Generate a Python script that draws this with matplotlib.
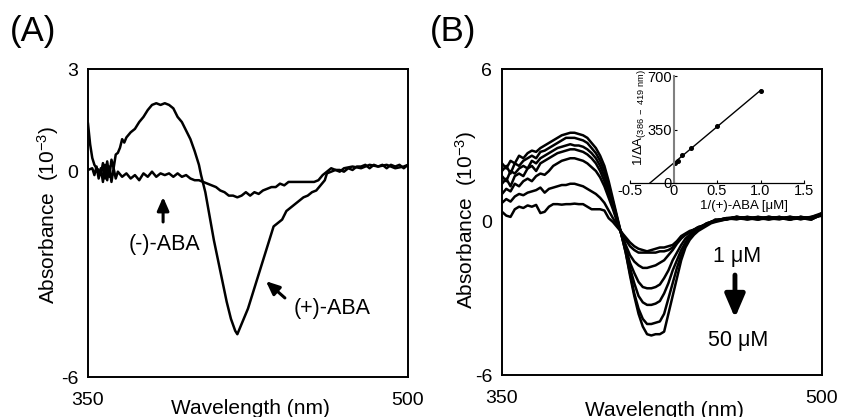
import matplotlib
matplotlib.use('Agg')
import matplotlib.pyplot as plt
import numpy as np

plt.rcParams['font.family'] = ['Liberation Sans', 'DejaVu Sans']
plt.rcParams['mathtext.fontset'] = 'custom'
plt.rcParams['mathtext.rm'] = 'Liberation Sans'
plt.rcParams['mathtext.it'] = 'Liberation Sans:italic'
plt.rcParams['mathtext.bf'] = 'Liberation Sans:bold'

# ---------------- Panel A data ----------------
wl_a_plus = [350, 351, 352, 353, 354, 355, 356, 357, 358, 359, 360, 361, 362, 363, 364, 365,
             366, 367, 368, 370, 372, 374, 376, 378, 380, 382, 384, 386, 388, 390, 392, 394,
             396, 398, 400, 402, 403, 405, 407, 409, 411, 413, 415, 417, 419, 420, 421, 423,
             425, 427, 429, 431, 433, 435, 437, 439, 441, 443, 445, 447, 449, 451, 453, 455,
             457, 459, 461, 462, 464, 466, 468, 470, 472, 474, 476, 478, 480, 482, 484, 486,
             488, 490, 492, 494, 496, 498, 500]
abs_a_plus = [1.4, 0.8, 0.4, 0.2, 0.1, 0.05, -0.1, 0.25, -0.2, 0.3, -0.15, 0.35, 0.1, 0.5, 0.55, 0.7,
              0.95, 0.85, 1.0, 1.15, 1.25, 1.45, 1.6, 1.8, 1.95, 2.0, 1.95, 2.0, 1.95, 1.85, 1.6, 1.45,
              1.2, 0.95, 0.6, 0.2, -0.1, -0.6, -1.3, -2.0, -2.6, -3.2, -3.8, -4.3, -4.65, -4.75, -4.6, -4.3,
              -4.0, -3.6, -3.2, -2.8, -2.4, -2.0, -1.6, -1.5, -1.4, -1.15, -1.05, -0.95, -0.85, -0.75, -0.7, -0.6,
              -0.55, -0.4, -0.25, -0.05, 0.0, 0.05, 0.05, 0.0, 0.1, 0.05, 0.15, 0.15, 0.2, 0.1, 0.2, 0.15,
              0.2, 0.1, 0.2, 0.15, 0.2, 0.1, 0.2]

wl_a_minus = [350, 352, 353, 354, 355, 356, 357, 358, 359, 360, 361, 362, 363, 364, 366, 368,
              370, 372, 374, 376, 378, 380, 382, 384, 386, 388, 390, 392, 394, 396, 398, 400,
              402, 404, 406, 408, 410, 412, 414, 416, 418, 420, 422, 424, 426, 428, 430, 432,
              434, 436, 438, 440, 442, 444, 446, 448, 450, 452, 454, 456, 458, 460, 462, 464,
              466, 468, 470, 474, 478, 482, 486, 490, 494, 498, 500]
abs_a_minus = [0.05, 0.1, -0.1, 0.15, -0.2, 0.1, -0.3, 0.2, -0.25, 0.15, -0.3, 0.1, -0.2, 0.0, -0.15, -0.05,
               -0.2, -0.1, -0.25, -0.05, -0.15, 0.0, -0.15, -0.05, -0.1, -0.05, -0.15, -0.05, -0.15, -0.1, -0.2, -0.25,
               -0.25, -0.3, -0.35, -0.4, -0.45, -0.55, -0.6, -0.7, -0.7, -0.75, -0.7, -0.6, -0.7, -0.6, -0.65, -0.55,
               -0.5, -0.45, -0.45, -0.35, -0.4, -0.3, -0.3, -0.3, -0.3, -0.3, -0.3, -0.3, -0.25, -0.1, 0.0, 0.1,
               0.05, 0.0, 0.1, 0.15, 0.1, 0.2, 0.15, 0.2, 0.1, 0.15, 0.2]

# ---------------- Panel B data ----------------
wl_b = [350, 352, 354, 356, 358, 360, 362, 364, 366, 368, 370, 372, 374, 376, 378, 380,
        382, 384, 386, 388, 390, 392, 394, 396, 398, 400, 402, 404, 406, 408, 410, 412,
        414, 416, 418, 420, 422, 424, 426, 428, 430, 432, 434, 436, 438, 440, 442, 444,
        446, 448, 450, 455, 460, 465, 470, 475, 480, 485, 490, 495, 500]

b_1uM = [0.4, 0.25, 0.2, 0.5, 0.6, 0.55, 0.65, 0.6, 0.67, 0.35, 0.4, 0.6, 0.7, 0.7, 0.68, 0.7,
         0.7, 0.72, 0.7, 0.7, 0.6, 0.5, 0.5, 0.5, 0.45, 0.15, 0.0, -0.2, -0.4, -0.6, -0.8, -0.95,
         -1.05, -1.1, -1.15, -1.1, -1.05, -1.0, -1.0, -0.95, -0.9, -0.75, -0.55, -0.45, -0.35, -0.3, -0.2, -0.15,
         -0.05, 0.0, 0.05, 0.15, 0.2, 0.1, 0.15, 0.1, 0.2, 0.1, 0.15, 0.1, 0.3]
b_2 = [0.75, 0.9, 0.8, 1.0, 1.1, 1.05, 1.15, 1.2, 1.25, 1.35, 1.15, 1.3, 1.35, 1.4, 1.45, 1.45,
       1.5, 1.5, 1.45, 1.4, 1.3, 1.2, 1.1, 0.95, 0.75, 0.45, 0.15, -0.1, -0.4, -0.7, -0.95, -1.1,
       -1.2, -1.2, -1.2, -1.2, -1.2, -1.15, -1.15, -1.1, -1.0, -0.8, -0.6, -0.5, -0.4, -0.3, -0.25, -0.15,
       -0.1, 0.0, 0.05, 0.1, 0.2, 0.15, 0.1, 0.2, 0.15, 0.1, 0.2, 0.15, 0.25]
b_3 = [1.1, 1.3, 1.2, 1.5, 1.4, 1.6, 1.7, 1.6, 1.8, 1.9, 1.85, 2.0, 2.2, 2.3, 2.4, 2.45,
       2.5, 2.5, 2.45, 2.4, 2.3, 2.15, 2.0, 1.75, 1.4, 0.95, 0.5, 0.0, -0.45, -0.9, -1.3, -1.55,
       -1.7, -1.8, -1.8, -1.75, -1.7, -1.6, -1.5, -1.3, -1.1, -0.85, -0.65, -0.5, -0.4, -0.3, -0.2, -0.15,
       -0.05, 0.0, 0.1, 0.1, 0.2, 0.15, 0.1, 0.2, 0.15, 0.1, 0.2, 0.15, 0.3]
b_4 = [1.5, 1.7, 1.4, 1.8, 1.9, 1.8, 2.1, 2.2, 2.0, 2.3, 2.4, 2.5, 2.6, 2.7, 2.75, 2.8,
       2.85, 2.85, 2.8, 2.75, 2.65, 2.5, 2.3, 2.0, 1.6, 1.1, 0.6, 0.05, -0.5, -1.0, -1.6, -2.0,
       -2.35, -2.55, -2.6, -2.6, -2.55, -2.45, -2.2, -1.9, -1.5, -1.2, -0.9, -0.65, -0.5, -0.35, -0.25, -0.15,
       -0.1, 0.0, 0.05, 0.15, 0.15, 0.1, 0.2, 0.15, 0.1, 0.2, 0.15, 0.1, 0.35]
b_5 = [1.8, 1.6, 2.0, 1.9, 2.1, 2.2, 2.1, 2.4, 2.3, 2.5, 2.6, 2.7, 2.8, 2.9, 2.95, 3.0,
       3.05, 3.0, 3.0, 2.95, 2.85, 2.7, 2.5, 2.2, 1.8, 1.3, 0.7, 0.1, -0.5, -1.1, -1.8, -2.4,
       -2.9, -3.15, -3.25, -3.25, -3.2, -3.1, -2.8, -2.4, -1.9, -1.5, -1.1, -0.8, -0.55, -0.4, -0.3, -0.2,
       -0.1, 0.0, 0.05, 0.1, 0.2, 0.15, 0.2, 0.1, 0.15, 0.2, 0.1, 0.2, 0.3]
b_6 = [2.0, 2.2, 1.9, 2.3, 2.2, 2.4, 2.5, 2.6, 2.5, 2.75, 2.8, 2.9, 3.0, 3.1, 3.2, 3.3,
       3.3, 3.3, 3.25, 3.2, 3.1, 2.9, 2.7, 2.4, 2.0, 1.4, 0.8, 0.15, -0.5, -1.2, -2.0, -2.8,
       -3.4, -3.8, -4.0, -4.0, -3.95, -3.9, -3.6, -3.0, -2.4, -1.8, -1.3, -0.9, -0.6, -0.45, -0.3, -0.2,
       -0.1, 0.0, 0.05, 0.15, 0.1, 0.2, 0.1, 0.15, 0.2, 0.1, 0.2, 0.1, 0.3]
b_50uM = [2.3, 2.1, 2.4, 2.3, 2.6, 2.5, 2.7, 2.8, 2.75, 2.9, 3.0, 3.1, 3.2, 3.3, 3.4, 3.45,
          3.5, 3.5, 3.45, 3.4, 3.3, 3.1, 2.9, 2.6, 2.2, 1.6, 0.9, 0.2, -0.5, -1.2, -2.1, -2.9,
          -3.6, -4.1, -4.4, -4.45, -4.4, -4.4, -4.3, -3.6, -2.9, -2.2, -1.5, -1.0, -0.7, -0.5, -0.35, -0.25,
          -0.15, -0.05, 0.0, 0.1, 0.15, 0.2, 0.15, 0.2, 0.15, 0.2, 0.15, 0.2, 0.35]
b_series = [b_1uM, b_2, b_3, b_4, b_5, b_6, b_50uM]

# ---------------- Inset data (double reciprocal) ----------------
inv_aba = [0.02, 0.05, 0.1, 0.2, 0.5, 1.0]
inv_dA = [134, 147, 180, 229, 376, 601]

# ---------------- Figure ----------------
W, H = 842, 417
fig = plt.figure(figsize=(W / 100, H / 100), dpi=100)


def fx(px):
    return px / W


def fy(py):
    return 1 - py / H


def style_main(ax):
    for s in ax.spines.values():
        s.set_linewidth(1.4)
        s.set_color('black')
    ax.tick_params(axis='both', length=0, labelsize=14)
    ax.tick_params(axis='y', pad=7)
    ax.tick_params(axis='x', pad=11)


lw_curve = 1.8

# Panel A
axA = fig.add_axes([fx(88), fy(377), fx(408) - fx(88), fy(69) - fy(377)])
axA.plot(wl_a_minus, abs_a_minus, color='black', lw=lw_curve)
axA.plot(wl_a_plus, abs_a_plus, color='black', lw=lw_curve)
axA.set_xlim(350, 500)
axA.set_ylim(-6, 3)
axA.set_xticks([350, 500])
axA.set_yticks([-6, 0, 3])
axA.set_yticklabels(['-6', '0', '3'])
style_main(axA)

axA.annotate('', xy=(385.2, -0.74), xytext=(385.2, -1.47),
             arrowprops=dict(arrowstyle='-|>,head_width=0.35,head_length=0.8', lw=2.2,
                             color='black', mutation_scale=10, shrinkA=0, shrinkB=0))
axA.text(386.0, -2.14, '(-)-ABA', ha='center', va='center', fontsize=15.5)
axA.annotate('', xy=(433.4, -3.2), xytext=(442.3, -3.69),
             arrowprops=dict(arrowstyle='-|>,head_width=0.35,head_length=0.8', lw=2.2,
                             color='black', mutation_scale=10, shrinkA=0, shrinkB=0))
axA.text(464.4, -3.99, '(+)-ABA', ha='center', va='center', fontsize=15.5)

# Panel B
axB = fig.add_axes([fx(502), fy(375), fx(822) - fx(502), fy(69) - fy(375)])
for ser in b_series:
    axB.plot(wl_b, ser, color='black', lw=lw_curve)
axB.set_xlim(350, 500)
axB.set_ylim(-6, 6)
axB.set_xticks([350, 500])
axB.set_yticks([-6, 0, 6])
axB.set_yticklabels(['-6', '0', '6'])
style_main(axB)

axB.text(460.2, -1.37, '1 μM', ha='center', va='center', fontsize=15.5)
axB.annotate('', xy=(459.2, -3.76), xytext=(459.2, -2.08),
             arrowprops=dict(arrowstyle='-|>,head_width=0.3,head_length=0.7', lw=3.5,
                             color='black', mutation_scale=20, shrinkA=0, shrinkB=0))
axB.text(460.6, -4.65, '50 μM', ha='center', va='center', fontsize=15.5)

# Inset
axI = fig.add_axes([fx(630), fy(183), fx(804) - fx(630), fy(76) - fy(183)])
axI.patch.set_alpha(0)
xi = np.array(inv_aba)
yi = np.array(inv_dA)
m, b = np.polyfit(xi, yi, 1)
xs = np.array([-b / m, xi.max()])
axI.plot(xs, m * xs + b, color='black', lw=1.0)
axI.plot(xi, yi, 'o', color='black', ms=2.6)
axI.set_xlim(-0.5, 1.5)
axI.set_ylim(0, 700)
axI.spines['left'].set_position(('data', 0))
axI.spines['left'].set_color('#808080')
axI.spines['left'].set_linewidth(1.5)
axI.spines['bottom'].set_linewidth(0.9)
axI.spines['top'].set_visible(False)
axI.spines['right'].set_visible(False)
axI.set_xticks([-0.5, 0, 0.5, 1.0, 1.5])
axI.set_xticklabels(['-0.5', '0', '0.5', '1.0', '1.5'])
axI.set_yticks([0, 350, 700])
axI.set_yticklabels(['0', '350', '700'])
axI.tick_params(axis='both', direction='in', length=2, width=0.8, labelsize=10.5, pad=1)

# Labels
fig.text(fx(10), fy(32), '(A)', fontsize=25, ha='left', va='center')
fig.text(fx(430), fy(32), '(B)', fontsize=25, ha='left', va='center')
fig.text(fx(250), fy(409), 'Wavelength (nm)', fontsize=15, ha='center', va='center')
fig.text(fx(664), fy(410), 'Wavelength (nm)', fontsize=15, ha='center', va='center')
fig.text(fx(48), fy(215), r'Absorbance  (10$^{-3}$)', fontsize=15, rotation=90,
         ha='center', va='center')
fig.text(fx(466), fy(220), r'Absorbance  (10$^{-3}$)', fontsize=15, rotation=90,
         ha='center', va='center')
fig.text(fx(640), fy(118), r'1/ΔA$_{\mathrm{(386\ -\ 419\ nm)}}$', fontsize=9.5, rotation=90,
         ha='center', va='center')
fig.text(fx(744), fy(206), '1/(+)-ABA [μM]', fontsize=9.5, ha='center', va='center')

fig.savefig('out.png', dpi=100)
